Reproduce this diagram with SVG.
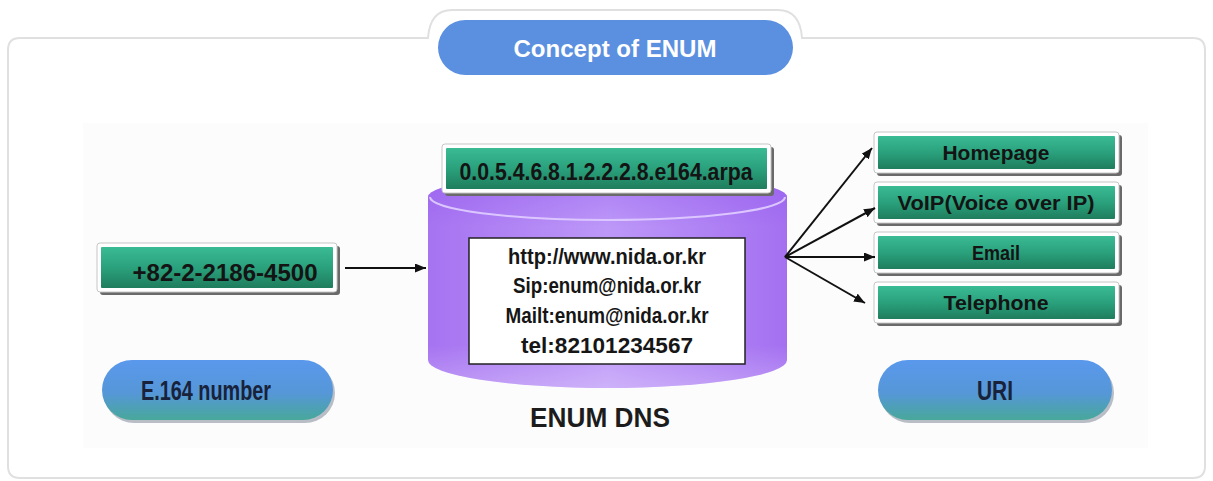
<svg xmlns="http://www.w3.org/2000/svg" width="1213" height="481" viewBox="0 0 1213 481">
  <style>
    .lbl { font-family: "Liberation Sans", Arial, sans-serif; font-weight: bold; fill: #141414; text-anchor: middle; }
    .rec { font-family: "Liberation Sans", Arial, sans-serif; font-weight: bold; fill: #161616; text-anchor: middle; font-size: 22px; }
    .pilltxt { font-family: "Liberation Sans", Arial, sans-serif; font-weight: bold; fill: #18223a; text-anchor: middle; font-size: 27px; }
    .frame { fill: #ffffff; stroke: #e0e0e0; stroke-width: 2; }
    .boxshadow { fill: #6a6a6a; }
    .boxouter { fill: #ffffff; stroke: #c6c6c6; stroke-width: 1; }
    .boxinner { fill: url(#green); }
    .pill { fill: url(#pillgrad); }
    .pillshadow { fill: #b9bec6; }
    .conn { stroke: #111111; stroke-width: 2; fill: none; marker-end: url(#arrow); }
  </style>
  <defs>
    <linearGradient id="green" x1="0" y1="0" x2="0" y2="1">
      <stop offset="0" stop-color="#3abb94"/>
      <stop offset="0.5" stop-color="#2aa17c"/>
      <stop offset="1" stop-color="#1f7d5d"/>
    </linearGradient>
    <linearGradient id="pillgrad" x1="0" y1="0" x2="0" y2="1">
      <stop offset="0" stop-color="#5a98ec"/>
      <stop offset="0.55" stop-color="#5597d8"/>
      <stop offset="1" stop-color="#48a89a"/>
    </linearGradient>
    <linearGradient id="cylbody" x1="0" y1="0" x2="1" y2="0">
      <stop offset="0" stop-color="#a673f1"/>
      <stop offset="0.5" stop-color="#bd98f8"/>
      <stop offset="1" stop-color="#a470f1"/>
    </linearGradient>
    <linearGradient id="cylshade" x1="0" y1="0" x2="0" y2="1">
      <stop offset="0" stop-color="#8f55ee" stop-opacity="0.45"/>
      <stop offset="0.25" stop-color="#8f55ee" stop-opacity="0"/>
      <stop offset="0.8" stop-color="#ffffff" stop-opacity="0"/>
      <stop offset="1" stop-color="#ffffff" stop-opacity="0.25"/>
    </linearGradient>
    <marker id="arrow" markerUnits="userSpaceOnUse" markerWidth="12" markerHeight="10" refX="11" refY="4.5" orient="auto">
      <path d="M0,0 L11,4.5 L0,9 Z" fill="#111111"/>
    </marker>
  </defs>

  <!-- outer panel with title tab -->
  <path class="frame" d="M8,50 Q8,38 20,38 L428,38 Q430,10 452,10 L778,10 Q800,10 802,38 L1193,38 Q1205,38 1205,50 L1205,466 Q1205,478 1193,478 L20,478 Q8,478 8,466 Z"/>
  <rect x="83" y="123" width="1065" height="325" fill="#fcfcfc"/>

  <!-- title -->
  <g id="title">
    <rect x="438" y="20" width="355" height="55" rx="27.5" fill="#5b8fdf"/>
    <text x="615" y="57" font-family="Liberation Sans, Arial, sans-serif" font-weight="bold" font-size="24" fill="#ffffff" text-anchor="middle" textLength="203" lengthAdjust="spacingAndGlyphs">Concept of ENUM</text>
  </g>

  <!-- E.164 number box -->
  <g id="e164-value">
    <rect class="boxshadow" x="100" y="246" width="240" height="49" rx="3"/>
    <rect class="boxouter" x="97" y="243" width="240" height="49" rx="3"/>
    <rect class="boxinner" x="101" y="247" width="232" height="41" rx="1"/>
    <text class="lbl" x="225" y="281" font-size="24" textLength="185" lengthAdjust="spacingAndGlyphs">+82-2-2186-4500</text>
  </g>

  <!-- ENUM DNS database -->
  <g id="enum-dns">
    <path d="M428,197 A179.5,24 0 0 1 787,197 L787,360 A179.5,28 0 0 1 428,360 Z" fill="url(#cylbody)"/>
    <path d="M428,197 A179.5,24 0 0 1 787,197 L787,360 A179.5,28 0 0 1 428,360 Z" fill="url(#cylshade)"/>
    <path d="M430,197 A177.5,23 0 0 0 785,197" fill="none" stroke="#dcc6ff" stroke-width="2"/>
    <rect x="469" y="238" width="276" height="126" fill="#ffffff" stroke="#222222" stroke-width="1.5"/>
    <text class="rec" x="607" y="264" textLength="198" lengthAdjust="spacingAndGlyphs">http://www.nida.or.kr</text>
    <text class="rec" x="607" y="293" textLength="188" lengthAdjust="spacingAndGlyphs">Sip:enum@nida.or.kr</text>
    <text class="rec" x="607" y="323" textLength="203" lengthAdjust="spacingAndGlyphs">Mailt:enum@nida.or.kr</text>
    <text class="rec" x="607" y="353" textLength="172" lengthAdjust="spacingAndGlyphs">tel:82101234567</text>
    <text x="600" y="427" font-family="Liberation Sans, Arial, sans-serif" font-weight="bold" font-size="27" fill="#1c1c1c" text-anchor="middle" textLength="140" lengthAdjust="spacingAndGlyphs">ENUM DNS</text>
  </g>

  <!-- domain label on top of the database -->
  <g id="domain">
    <rect class="boxshadow" x="445" y="147" width="329" height="49" rx="3"/>
    <rect class="boxouter" x="442" y="144" width="329" height="49" rx="3"/>
    <rect class="boxinner" x="446" y="148" width="321" height="41" rx="1"/>
    <text class="lbl" x="606" y="180" font-size="24" textLength="293" lengthAdjust="spacingAndGlyphs">0.0.5.4.6.8.1.2.2.2.8.e164.arpa</text>
  </g>

  <!-- service boxes -->
  <g id="homepage">
    <rect class="boxshadow" x="877" y="135" width="245" height="41" rx="3"/>
    <rect class="boxouter" x="874" y="132" width="245" height="41" rx="3"/>
    <rect class="boxinner" x="878" y="136" width="237" height="33" rx="1"/>
    <text class="lbl" x="996" y="160" font-size="20" textLength="107" lengthAdjust="spacingAndGlyphs">Homepage</text>
  </g>
  <g id="voip">
    <rect class="boxshadow" x="877" y="185" width="245" height="41" rx="3"/>
    <rect class="boxouter" x="874" y="182" width="245" height="41" rx="3"/>
    <rect class="boxinner" x="878" y="186" width="237" height="33" rx="1"/>
    <text class="lbl" x="996" y="210" font-size="20" textLength="197" lengthAdjust="spacingAndGlyphs">VoIP(Voice over IP)</text>
  </g>
  <g id="email">
    <rect class="boxshadow" x="877" y="235" width="245" height="41" rx="3"/>
    <rect class="boxouter" x="874" y="232" width="245" height="41" rx="3"/>
    <rect class="boxinner" x="878" y="236" width="237" height="33" rx="1"/>
    <text class="lbl" x="996" y="260" font-size="20" textLength="48" lengthAdjust="spacingAndGlyphs">Email</text>
  </g>
  <g id="telephone">
    <rect class="boxshadow" x="877" y="285" width="245" height="41" rx="3"/>
    <rect class="boxouter" x="874" y="282" width="245" height="41" rx="3"/>
    <rect class="boxinner" x="878" y="286" width="237" height="33" rx="1"/>
    <text class="lbl" x="996" y="310" font-size="20" textLength="105" lengthAdjust="spacingAndGlyphs">Telephone</text>
  </g>

  <!-- category pills -->
  <g id="e164-pill">
    <rect class="pillshadow" x="104" y="363" width="231" height="60" rx="30"/>
    <rect class="pill" x="102" y="360" width="231" height="60" rx="30"/>
    <text class="pilltxt" x="206" y="400" textLength="130" lengthAdjust="spacingAndGlyphs">E.164 number</text>
  </g>
  <g id="uri-pill">
    <rect class="pillshadow" x="880" y="363" width="234" height="60" rx="30"/>
    <rect class="pill" x="878" y="360" width="234" height="60" rx="30"/>
    <text class="pilltxt" x="995" y="400" textLength="36" lengthAdjust="spacingAndGlyphs">URI</text>
  </g>

  <!-- connectors -->
  <g id="connectors">
    <line class="conn" x1="345" y1="268" x2="426" y2="268"/>
    <line class="conn" x1="785" y1="257" x2="872" y2="148"/>
    <line class="conn" x1="785" y1="257" x2="875" y2="208"/>
    <line class="conn" x1="785" y1="257" x2="875" y2="257"/>
    <line class="conn" x1="785" y1="257" x2="865" y2="303"/>
  </g>
</svg>
